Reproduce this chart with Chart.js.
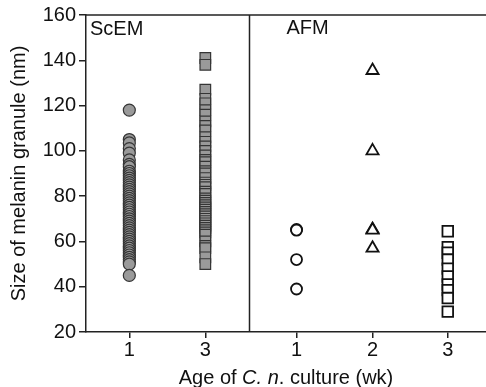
<!DOCTYPE html>
<html>
<head>
<meta charset="utf-8">
<script src="https://cdn.jsdelivr.net/npm/chart.js@4.4.1/dist/chart.umd.min.js"></script>
<style>
  html, body { margin: 0; padding: 0; background: #fff; }
  #wrap { position: relative; width: 486px; height: 387px; }
</style>
</head>
<body>
<div id="wrap"><canvas id="c" width="486" height="387"></canvas></div>
<script>
// ---- data ----
const panels = ['ScEM', 'AFM'];
const scemWeeks = ['1', '3'];
const afmWeeks = ['1', '2', '3'];
const yTicks = [20, 40, 60, 80, 100, 120, 140, 160];

const scemWeek1 = [118, 105, 103.5, 101, 99, 96, 94, 93, 91, 90, 89, 88, 87, 86, 85, 84, 83, 82, 81, 80, 79, 78, 77, 76, 75, 74, 73, 72, 71, 70, 69, 68, 67, 66, 65, 64, 63, 62, 61, 60, 59, 58, 57, 56, 55, 54, 53, 52, 51, 50, 45];
const scemWeek3 = [141, 138, 127, 123, 121, 118, 116, 113, 111, 109, 106, 104, 102, 100, 98, 96, 95, 93, 91, 90, 88, 86, 85, 84, 82, 81, 79, 78, 77, 76, 75, 74, 73, 72, 71, 70, 69, 68, 67, 66, 65, 64, 63, 60, 58, 57, 53, 50];
const afmWeek1 = [65.3, 65, 52, 39];
const afmWeek2 = [135.5, 100, 65.3, 65, 57];
const afmWeek3 = [64.5, 57.5, 55, 52, 48, 44.5, 41, 38.5, 35, 29];

// ---- layout of the category slots along a shared linear x axis ----
const slotPos = { scem: [0.57, 1.57], afm: [2.77, 3.77, 4.76] };
const dividerPos = 2.145;
const xMax = 5.263;

function pts(xv, arr) { return arr.map(v => ({ x: xv, y: v })); }

const tickPositions = [...slotPos.scem, ...slotPos.afm];
const tickLabels = [...scemWeeks, ...afmWeeks];

const FONT = "'Liberation Sans', Arial, Helvetica, sans-serif";
const FS = 20;

const overlay = {
  id: 'overlay',
  afterDraw(chart) {
    const { ctx, chartArea: a, scales: { x } } = chart;
    ctx.save();
    ctx.strokeStyle = '#222';
    ctx.lineWidth = 1.5;
    // top frame line
    ctx.beginPath();
    ctx.moveTo(a.left, a.top);
    ctx.lineTo(a.right, a.top);
    ctx.stroke();
    // panel divider
    const dx = Math.round(x.getPixelForValue(dividerPos)) + 0.5;
    ctx.beginPath();
    ctx.moveTo(dx, a.top);
    ctx.lineTo(dx, a.bottom);
    ctx.stroke();
    // panel labels
    ctx.fillStyle = '#111';
    ctx.font = FS + "px " + FONT;
    ctx.textBaseline = 'middle';
    ctx.textAlign = 'left';
    ctx.fillText(panels[0], a.left + 4, a.top + 14);
    ctx.fillText(panels[1], dx + 37, a.top + 13);
    // x title with italic part
    const parts = [
      ['Age of ', 'normal'],
      ['C. n', 'italic'],
      ['. culture (wk)', 'normal']
    ];
    let total = 0;
    parts.forEach(p => { ctx.font = p[1] + " " + FS + "px " + FONT; total += ctx.measureText(p[0]).width; });
    let cx = (a.left + a.right) / 2 - total / 2;
    const ty = 378;
    parts.forEach(p => {
      ctx.font = p[1] + " " + FS + "px " + FONT;
      ctx.fillText(p[0], cx, ty);
      cx += ctx.measureText(p[0]).width;
    });
    ctx.restore();
  }
};

const filledStyle = { backgroundColor: '#9a9a9a', borderColor: '#353535', borderWidth: 1.2 };
const openStyle = { backgroundColor: '#ffffff', borderColor: '#111111', borderWidth: 1.8 };

new Chart(document.getElementById('c'), {
  type: 'scatter',
  data: {
    datasets: [
      Object.assign({ label: 'ScEM wk1', data: pts(slotPos.scem[0], scemWeek1), pointStyle: 'circle', pointRadius: 6 }, filledStyle),
      Object.assign({ label: 'ScEM wk3', data: pts(slotPos.scem[1], scemWeek3), pointStyle: 'rect', pointRadius: 7.5 }, filledStyle),
      Object.assign({ label: 'AFM wk1', data: pts(slotPos.afm[0], afmWeek1), pointStyle: 'circle', pointRadius: 5.5 }, openStyle),
      Object.assign({ label: 'AFM wk2', data: pts(slotPos.afm[1], afmWeek2), pointStyle: 'triangle', pointRadius: 7 }, openStyle),
      Object.assign({ label: 'AFM wk3', data: pts(slotPos.afm[2], afmWeek3), pointStyle: 'rect', pointRadius: 7.5 }, openStyle)
    ]
  },
  options: {
    responsive: false,
    animation: false,
    layout: { autoPadding: false, padding: { top: 15, right: 0, left: 0, bottom: 0 } },
    plugins: { legend: { display: false }, tooltip: { enabled: false } },
    scales: {
      x: {
        type: 'linear',
        min: 0,
        max: xMax,
        afterBuildTicks(scale) { scale.ticks = tickPositions.map(v => ({ value: v })); },
        afterFit(scale) { scale.height = 55; scale.paddingLeft = 0; scale.paddingRight = 0; },
        ticks: {
          callback(value, index) { return tickLabels[index]; },
          color: '#111',
          font: { family: FONT, size: FS },
          padding: 0,
          autoSkip: false,
          maxRotation: 0
        },
        grid: { drawOnChartArea: false, drawTicks: true, tickLength: 6, color: '#222', lineWidth: 1.5 },
        border: { display: true, color: '#222', width: 1.5 }
      },
      y: {
        min: 20,
        max: 160,
        afterBuildTicks(scale) { scale.ticks = yTicks.map(v => ({ value: v })); },
        afterFit(scale) { scale.width = 86; },
        ticks: {
          color: '#111',
          font: { family: FONT, size: FS },
          padding: 3
        },
        grid: { drawOnChartArea: false, drawTicks: true, tickLength: 7, color: '#222', lineWidth: 1.5 },
        border: { display: true, color: '#222', width: 1.5 },
        title: {
          display: true,
          text: 'Size of melanin granule (nm)',
          color: '#111',
          font: { family: FONT, size: FS },
          padding: { top: 7, bottom: 0 }
        }
      }
    }
  },
  plugins: [overlay]
});
</script>
</body>
</html>
